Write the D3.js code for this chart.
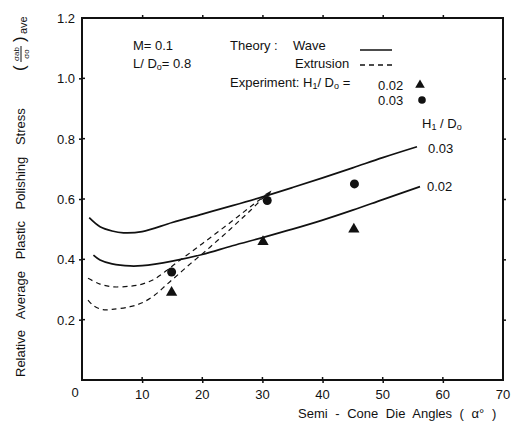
<!DOCTYPE html>
<html>
<head>
<meta charset="utf-8">
<script src="https://cdn.jsdelivr.net/npm/d3@7"></script>
<style>
  html, body { margin: 0; padding: 0; background: #fff; }
  text { font-family: "Liberation Sans", Arial, sans-serif; fill: #111; }
</style>
</head>
<body>
<svg id="chart" width="517" height="423"></svg>
<script>
// ---------------- data ----------------
const xTicks = [10, 20, 30, 40, 50, 60, 70];
const yTicks = [0.2, 0.4, 0.6, 0.8, 1.0, 1.2];

// Theory: wave, H1/D0 = 0.03
const waveX_03 = [1.2, 3, 5, 6.9, 10, 15, 20, 25, 30, 35, 40, 45, 50, 55.7];
const waveY_03 = [0.538, 0.508, 0.494, 0.488, 0.492, 0.522, 0.550, 0.578, 0.607, 0.638, 0.670, 0.703, 0.737, 0.773];
// Theory: wave, H1/D0 = 0.02
const waveX_02 = [1.9, 3, 5, 8, 10, 15, 20, 25, 30, 35, 40, 45, 50, 56.2];
const waveY_02 = [0.414, 0.398, 0.385, 0.378, 0.379, 0.394, 0.416, 0.445, 0.472, 0.500, 0.530, 0.563, 0.598, 0.641];
// Theory: extrusion, H1/D0 = 0.03
const extX_03 = [1.0, 3, 5, 8, 10, 12, 14, 16, 18, 20, 22, 24, 26, 28, 30.5];
const extY_03 = [0.337, 0.318, 0.309, 0.311, 0.318, 0.334, 0.362, 0.393, 0.422, 0.452, 0.482, 0.512, 0.543, 0.574, 0.612];
// Theory: extrusion, H1/D0 = 0.02
const extX_02 = [1.0, 2, 3.5, 5, 8, 10, 12, 14, 16, 18, 20, 22, 24, 26, 28, 30.5];
const extY_02 = [0.265, 0.245, 0.233, 0.234, 0.243, 0.256, 0.280, 0.315, 0.350, 0.385, 0.418, 0.453, 0.488, 0.525, 0.562, 0.612];
// Experiment
const expX_03 = [14.9, 30.8, 45.3];
const expY_03 = [0.358, 0.595, 0.650];
const expX_02 = [14.9, 30.1, 45.2];
const expY_02 = [0.290, 0.458, 0.500];

// ---------------- layout ----------------
const svg = d3.select("#chart");
const L = 82, R = 503, T = 18, B = 380;
const x = d3.scaleLinear().domain([0, 70]).range([L, R]);
const y = d3.scaleLinear().domain([0, 1.2]).range([B, T]);

// frame
svg.append("rect").attr("x", L).attr("y", T).attr("width", R - L).attr("height", B - T)
  .attr("fill", "none").attr("stroke", "#111").attr("stroke-width", 2);

// ticks (crossing marks) on all four sides
const tickLen = 3;
const bottomAxis = d3.axisBottom(x).tickValues(xTicks.slice(0, -1)).tickSize(tickLen).tickFormat("");
const topAxis = d3.axisTop(x).tickValues(xTicks.slice(0, -1)).tickSize(tickLen).tickFormat("");
const leftAxis = d3.axisLeft(y).tickValues(yTicks.slice(0, -1)).tickSize(tickLen).tickFormat("");
const rightAxis = d3.axisRight(y).tickValues(yTicks.slice(0, -1)).tickSize(tickLen).tickFormat("");
[[bottomAxis, `translate(0,${B})`], [topAxis, `translate(0,${T})`],
 [leftAxis, `translate(${L},0)`], [rightAxis, `translate(${R},0)`]].forEach(([ax, tr]) => {
  const g = svg.append("g").attr("transform", tr).call(ax);
  g.select(".domain").remove();
  g.selectAll(".tick line").attr("stroke", "#111").attr("stroke-width", 1.5);
});
// inward half of tick marks
svg.append("g").selectAll("line").data(xTicks.slice(0, -1)).join("line")
  .attr("x1", d => x(d)).attr("x2", d => x(d)).attr("y1", B).attr("y2", B - 3)
  .attr("stroke", "#111").attr("stroke-width", 1.5);
svg.append("g").selectAll("line").data(yTicks.slice(0, -1)).join("line")
  .attr("x1", L).attr("x2", L + 3).attr("y1", d => y(d)).attr("y2", d => y(d))
  .attr("stroke", "#111").attr("stroke-width", 1.5);

// tick labels
svg.append("g").selectAll("text").data(xTicks).join("text")
  .attr("x", d => x(d)).attr("y", 399).attr("text-anchor", "middle")
  .attr("font-size", 13).text(d => d);
svg.append("text").attr("x", x(0) - 7).attr("y", 397).attr("text-anchor", "middle")
  .attr("font-size", 13).text("0");
svg.append("g").selectAll("text").data(yTicks).join("text")
  .attr("x", 75).attr("y", d => y(d) + 5).attr("text-anchor", "end")
  .attr("font-size", 13).text(d => d.toFixed(1));

// x title
svg.append("text").attr("x", 298).attr("y", 418).attr("font-size", 13)
  .attr("word-spacing", 4).text("Semi - Cone Die Angles ( α° )");

// y title (rotated)
const yt = svg.append("g").attr("transform", "translate(25,377) rotate(-90)");
yt.append("text").attr("x", 0).attr("y", 0).attr("font-size", 13).attr("word-spacing", 8)
  .text("Relative Average Plastic Polishing Stress");
yt.append("text").attr("x", 306).attr("y", 0).attr("font-size", 17).text("(");
yt.append("text").attr("x", 323).attr("y", -6).attr("font-size", 8).attr("text-anchor", "middle").text("σab");
yt.append("line").attr("x1", 315).attr("x2", 331).attr("y1", -4).attr("y2", -4).attr("stroke", "#111").attr("stroke-width", 1);
yt.append("text").attr("x", 323).attr("y", 4).attr("font-size", 8).attr("text-anchor", "middle").text("σo");
yt.append("text").attr("x", 335).attr("y", 0).attr("font-size", 17).text(")");
yt.append("text").attr("x", 343).attr("y", 2).attr("font-size", 11).text("ave");

// ---------------- curves ----------------
const line = d3.line().x(d => x(d[0])).y(d => y(d[1])).curve(d3.curveCatmullRom.alpha(0.5));
const zip = (a, b) => a.map((v, i) => [v, b[i]]);

svg.append("path").datum(zip(waveX_03, waveY_03)).attr("d", line)
  .attr("fill", "none").attr("stroke", "#111").attr("stroke-width", 1.7);
svg.append("path").datum(zip(waveX_02, waveY_02)).attr("d", line)
  .attr("fill", "none").attr("stroke", "#111").attr("stroke-width", 1.7);
svg.append("path").datum(zip(extX_03, extY_03)).attr("d", line)
  .attr("fill", "none").attr("stroke", "#111").attr("stroke-width", 1.2).attr("stroke-dasharray", "5,4");
svg.append("path").datum(zip(extX_02, extY_02)).attr("d", line)
  .attr("fill", "none").attr("stroke", "#111").attr("stroke-width", 1.2).attr("stroke-dasharray", "5,4");

// small arrow head where the dashed curves meet the wave curve
const ax0 = extX_03[extX_03.length - 1], ay0 = extY_03[extY_03.length - 1];
svg.append("path")
  .attr("d", `M${x(ax0) - 1},${y(ay0) - 1} l7,-4 l-2,5 z`)
  .attr("fill", "#111");

// experiment markers
svg.append("g").selectAll("circle").data(zip(expX_03, expY_03)).join("circle")
  .attr("cx", d => x(d[0])).attr("cy", d => y(d[1])).attr("r", 4.5).attr("fill", "#111");
svg.append("g").selectAll("path").data(zip(expX_02, expY_02)).join("path")
  .attr("d", d3.symbol().type(d3.symbolTriangle).size(55))
  .attr("transform", d => `translate(${x(d[0])},${y(d[1])})`).attr("fill", "#111");

// curve labels
svg.append("text").attr("x", 428).attr("y", 153).attr("font-size", 13).text("0.03");
svg.append("text").attr("x", 427).attr("y", 191).attr("font-size", 13).text("0.02");
const hd = svg.append("text").attr("x", 422).attr("y", 128).attr("font-size", 13);
hd.append("tspan").text("H");
hd.append("tspan").attr("font-size", 9).attr("dy", 2).text("1");
hd.append("tspan").attr("dy", -2).text(" / D");
hd.append("tspan").attr("font-size", 9).attr("dy", 2).text("o");

// ---------------- legend / annotations ----------------
svg.append("text").attr("x", 133).attr("y", 50).attr("font-size", 13).text("M= 0.1");
const ld = svg.append("text").attr("x", 133).attr("y", 68).attr("font-size", 13);
ld.append("tspan").text("L/ D");
ld.append("tspan").attr("font-size", 9).attr("dy", 2).text("o");
ld.append("tspan").attr("dy", -2).text("= 0.8");

svg.append("text").attr("x", 230).attr("y", 50).attr("font-size", 13).text("Theory :");
svg.append("text").attr("x", 293).attr("y", 50).attr("font-size", 13).text("Wave");
svg.append("line").attr("x1", 360).attr("x2", 392).attr("y1", 50).attr("y2", 50)
  .attr("stroke", "#111").attr("stroke-width", 1.5);
svg.append("text").attr("x", 295).attr("y", 68).attr("font-size", 13).text("Extrusion");
svg.append("line").attr("x1", 360).attr("x2", 394).attr("y1", 65).attr("y2", 65)
  .attr("stroke", "#111").attr("stroke-width", 1.3).attr("stroke-dasharray", "5,4");

const ex = svg.append("text").attr("x", 230).attr("y", 87).attr("font-size", 13);
ex.append("tspan").text("Experiment: H");
ex.append("tspan").attr("font-size", 9).attr("dy", 2).text("1");
ex.append("tspan").attr("dy", -2).text("/ D");
ex.append("tspan").attr("font-size", 9).attr("dy", 2).text("o");
ex.append("tspan").attr("dy", -2).text(" =");
svg.append("text").attr("x", 378).attr("y", 90).attr("font-size", 13).text("0.02");
svg.append("text").attr("x", 378).attr("y", 105).attr("font-size", 13).text("0.03");
svg.append("path").attr("d", d3.symbol().type(d3.symbolTriangle).size(40))
  .attr("transform", "translate(420,85)").attr("fill", "#111");
svg.append("circle").attr("cx", 422).attr("cy", 100).attr("r", 3.8).attr("fill", "#111");
</script>
</body>
</html>
